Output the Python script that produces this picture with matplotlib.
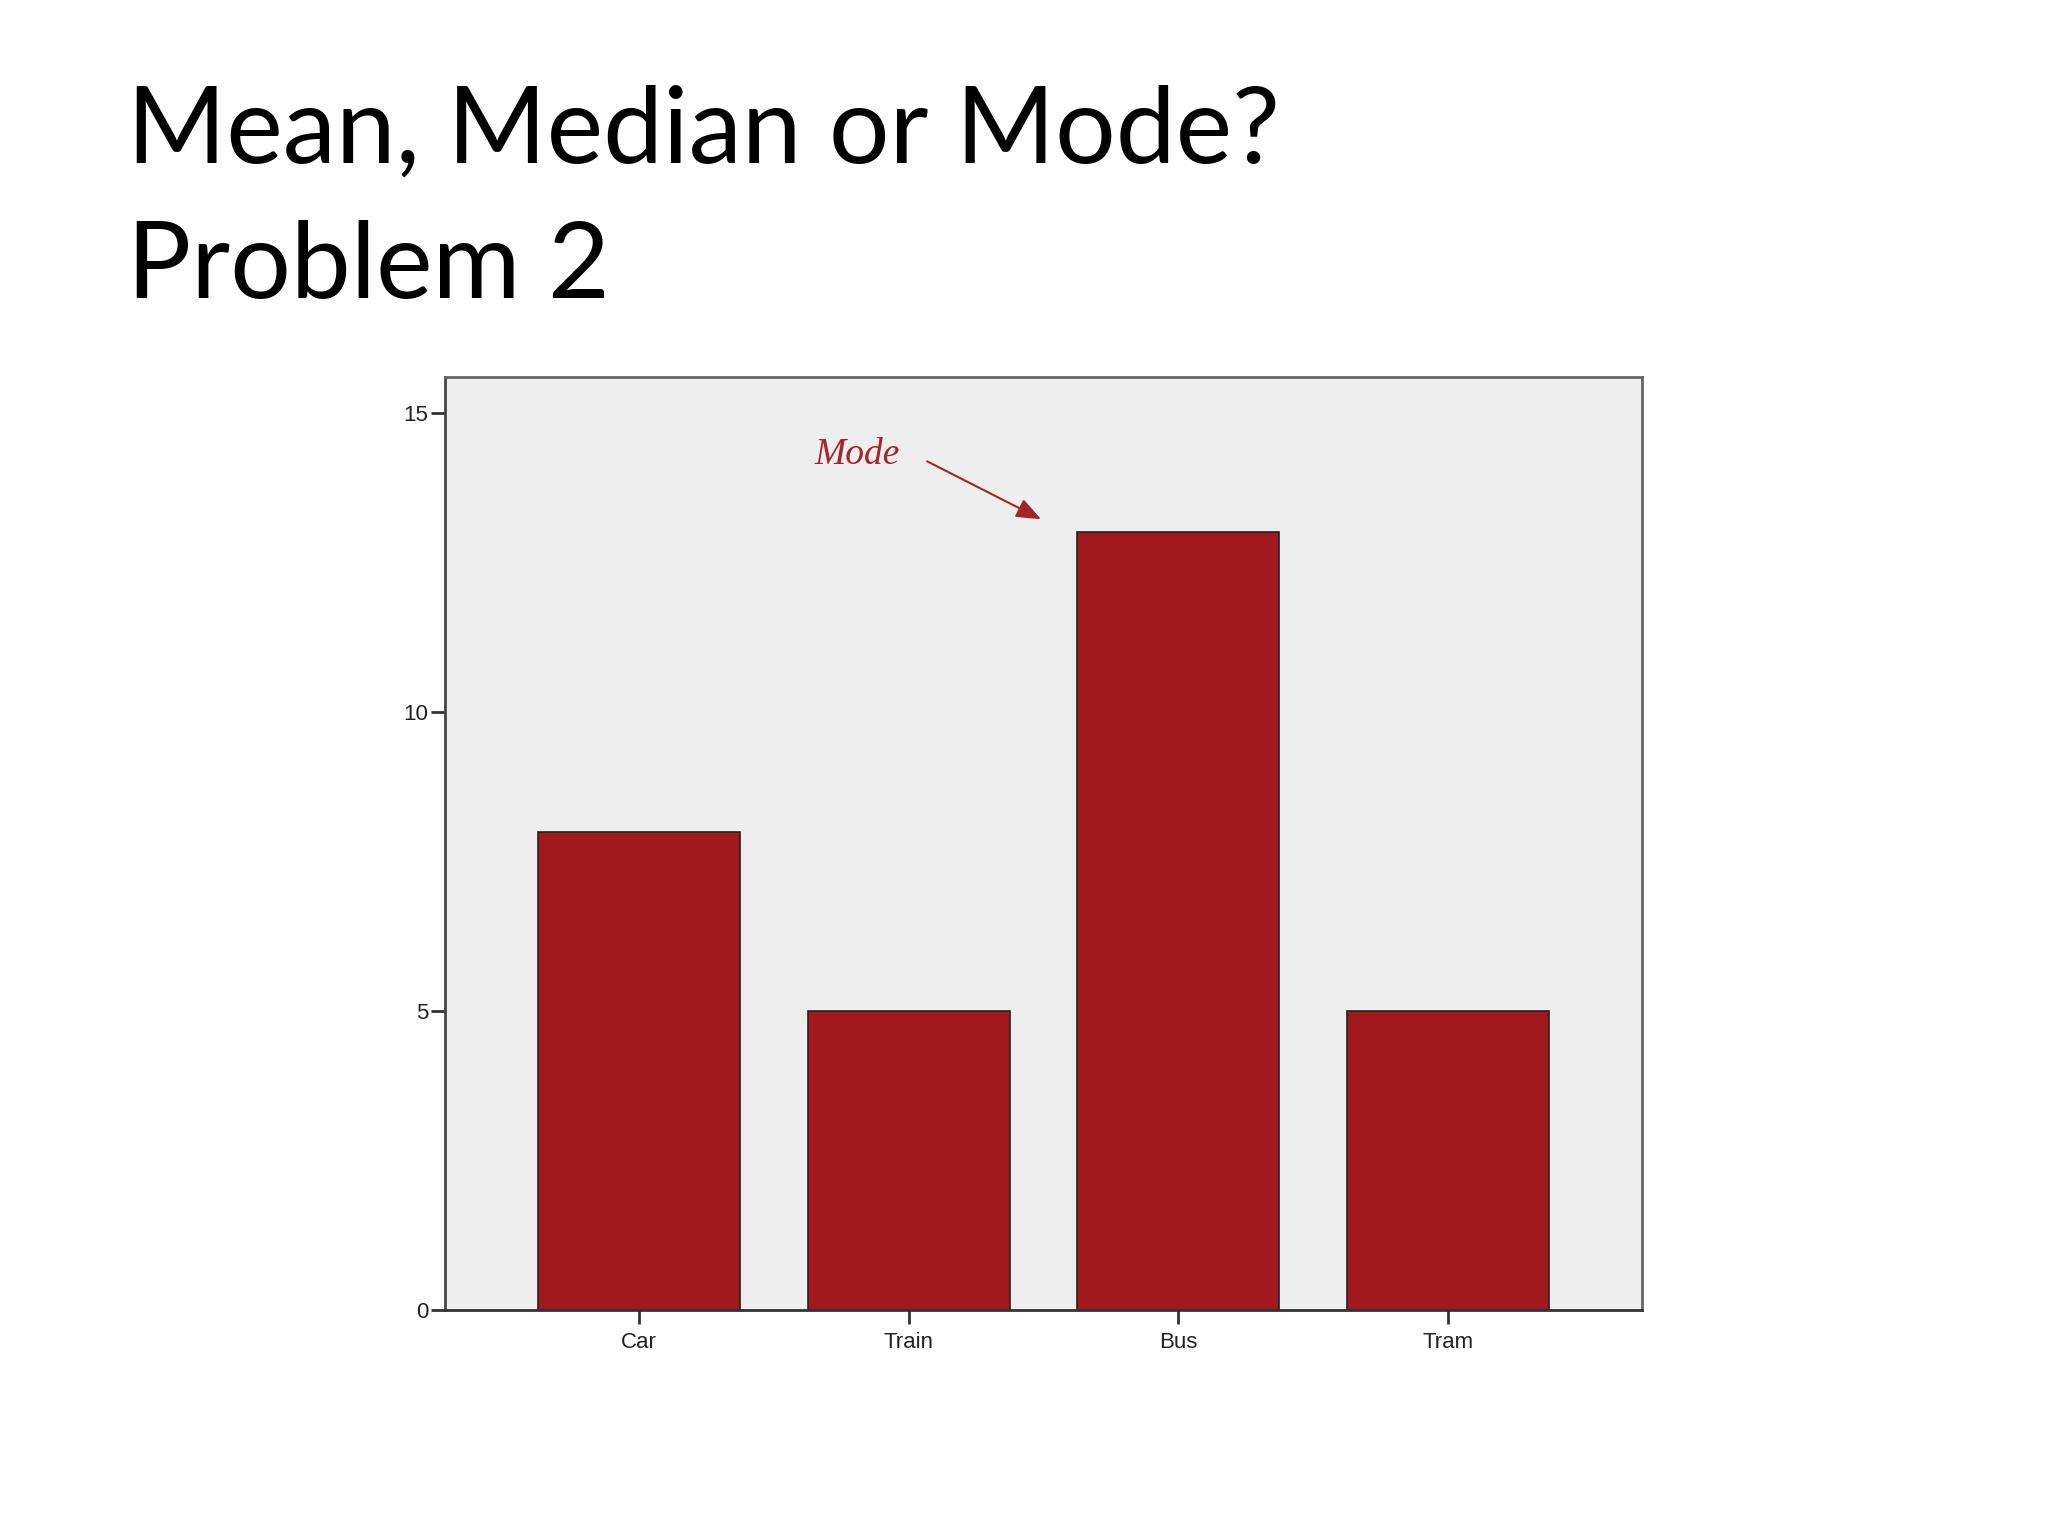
import matplotlib
matplotlib.use("Agg")
import matplotlib.pyplot as plt

# data
categories = ["Car", "Train", "Bus", "Tram"]
counts = [8, 5, 13, 5]
y_ticks = [0, 5, 10, 15]

title_lines = ["Mean, Median or Mode?", "Problem 2"]

bar_color = "#A2191D"
bg_color = "#EEEEEE"

fig = plt.figure(figsize=(20.48, 15.36), dpi=100)
fig.patch.set_facecolor("white")

# slide title
fig.text(0.062, 0.894, title_lines[0], fontsize=77, family=["Lato", "DejaVu Sans"],
         va="baseline", ha="left")
fig.text(0.062, 0.806, title_lines[1], fontsize=77, family=["Lato", "DejaVu Sans"],
         va="baseline", ha="left")

ax = fig.add_axes([0.2173, 0.1471, 0.5845, 0.6075])
ax.set_facecolor(bg_color)

x = range(len(categories))
ax.bar(x, counts, width=0.75, color=bar_color, edgecolor="#222222", linewidth=1.2, zorder=2)

ax.set_xlim(-0.72, 3.72)
ax.set_ylim(0, 15.6)
ax.set_xticks(list(x))
ax.set_xticklabels(categories)
ax.set_yticks(y_ticks)

for sp in ax.spines.values():
    sp.set_color("#666666")
    sp.set_linewidth(2)
ax.spines["left"].set_color("#444444")
ax.spines["bottom"].set_color("#333333")

ax.tick_params(axis="both", direction="out", length=10, width=2, color="#333333",
               labelsize=16, labelcolor="#222222")
for lab in ax.get_xticklabels() + ax.get_yticklabels():
    lab.set_family(["Liberation Sans Narrow", "Liberation Sans", "DejaVu Sans"])
ax.tick_params(axis="y", pad=2)
ax.tick_params(axis="x", pad=6)

# the hand-drawn style "Mode" note
ax.text(0.807, 14.3, "Mode", fontsize=27, color="#A3262A", style="italic",
        family=["Liberation Serif", "DejaVu Serif"], ha="center", va="center")
ax.annotate("", xy=(1.5, 13.2), xytext=(1.059, 14.21),
            arrowprops=dict(arrowstyle="-|>,head_length=1.5,head_width=0.6",
                            color="#A3262A", lw=1.5))

fig.savefig("out.png", dpi=100)
